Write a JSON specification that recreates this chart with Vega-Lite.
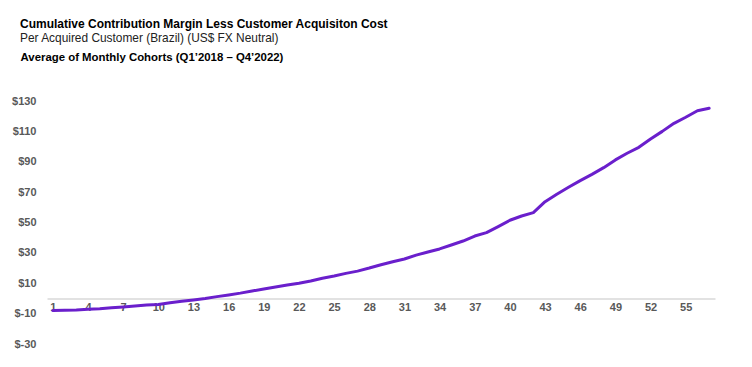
{
  "$schema": "https://vega.github.io/schema/vega-lite/v6.json",
  "width": 668,
  "height": 243,
  "autosize": "none",
  "padding": {"left": 47, "top": 101, "right": 37, "bottom": 23},
  "background": "white",
  "config": {"view": {"stroke": null}, "font": "Liberation Sans"},
  "title": {
    "text": "Cumulative Contribution Margin Less Customer Acquisiton Cost",
    "subtitle": "Per Acquired Customer (Brazil) (US$ FX Neutral)",
    "anchor": "start",
    "frame": "group",
    "dx": -27,
    "offset": 6,
    "font": "Liberation Sans",
    "fontSize": 12,
    "fontWeight": "bold",
    "color": "#000000",
    "subtitleFont": "Liberation Sans",
    "subtitleFontSize": 11.9,
    "subtitleColor": "#222222",
    "subtitlePadding": 2
  },
  "data": {
    "values": [
      {"month": 1, "value": -8.0}, {"month": 2, "value": -7.8}, {"month": 3, "value": -7.6},
      {"month": 4, "value": -7.2}, {"month": 5, "value": -6.8}, {"month": 6, "value": -6.2},
      {"month": 7, "value": -5.6}, {"month": 8, "value": -5.0}, {"month": 9, "value": -4.4},
      {"month": 10, "value": -4.0}, {"month": 11, "value": -2.8}, {"month": 12, "value": -1.9},
      {"month": 13, "value": -1.0}, {"month": 14, "value": 0.0}, {"month": 15, "value": 1.2},
      {"month": 16, "value": 2.3}, {"month": 17, "value": 3.5}, {"month": 18, "value": 4.9},
      {"month": 19, "value": 6.2}, {"month": 20, "value": 7.5}, {"month": 21, "value": 8.8},
      {"month": 22, "value": 10.0}, {"month": 23, "value": 11.5}, {"month": 24, "value": 13.3},
      {"month": 25, "value": 14.8}, {"month": 26, "value": 16.5}, {"month": 27, "value": 18.0},
      {"month": 28, "value": 20.0}, {"month": 29, "value": 22.2}, {"month": 30, "value": 24.2},
      {"month": 31, "value": 26.0}, {"month": 32, "value": 28.5}, {"month": 33, "value": 30.6},
      {"month": 34, "value": 32.6}, {"month": 35, "value": 35.2}, {"month": 36, "value": 37.8},
      {"month": 37, "value": 41.1}, {"month": 38, "value": 43.3}, {"month": 39, "value": 47.3},
      {"month": 40, "value": 51.5}, {"month": 41, "value": 54.3}, {"month": 42, "value": 56.5},
      {"month": 43, "value": 63.7}, {"month": 44, "value": 68.6}, {"month": 45, "value": 73.2},
      {"month": 46, "value": 77.6}, {"month": 47, "value": 81.7}, {"month": 48, "value": 86.1},
      {"month": 49, "value": 91.2}, {"month": 50, "value": 95.6}, {"month": 51, "value": 99.5},
      {"month": 52, "value": 105.0}, {"month": 53, "value": 110.0}, {"month": 54, "value": 115.3},
      {"month": 55, "value": 119.3}, {"month": 56, "value": 123.6}, {"month": 57, "value": 125.2}
    ]
  },
  "mark": {"type": "line", "color": "#6a1fcc", "strokeWidth": 3, "strokeJoin": "round", "strokeCap": "round"},
  "encoding": {
    "x": {
      "field": "month",
      "type": "quantitative",
      "scale": {"domain": [0.5, 57.5], "nice": false, "zero": false},
      "axis": {
        "values": [1, 4, 7, 10, 13, 16, 19, 22, 25, 28, 31, 34, 37, 40, 43, 46, 49, 52, 55],
        "offset": -45.5,
        "title": null,
        "grid": false,
        "ticks": false,
        "domainColor": "#d9d9d9",
        "domainWidth": 1.5,
        "labelFont": "Liberation Sans",
        "labelFontSize": 11,
        "labelFontWeight": "bold",
        "labelColor": "#595959",
        "labelPadding": 3,
        "labelFlush": false
      }
    },
    "y": {
      "field": "value",
      "type": "quantitative",
      "scale": {"domain": [-30, 130], "nice": false, "zero": false},
      "axis": {
        "values": [-30, -10, 10, 30, 50, 70, 90, 110, 130],
        "labelExpr": "'$' + datum.value",
        "grid": false,
        "ticks": false,
        "domain": false,
        "labelFont": "Liberation Sans",
        "labelFontSize": 11,
        "labelFontWeight": "bold",
        "labelColor": "#595959",
        "labelPadding": 11,
        "labelFlush": false,
        "title": "Average of Monthly Cohorts (Q1\u20192018 \u2013 Q4\u20192022)",
        "titleAngle": 0,
        "titleAlign": "left",
        "titleBaseline": "middle",
        "titleX": -27,
        "titleY": -44,
        "titleFont": "Liberation Sans",
        "titleFontSize": 11.4,
        "titleFontWeight": "bold",
        "titleColor": "#000000"
      }
    }
  }
}
